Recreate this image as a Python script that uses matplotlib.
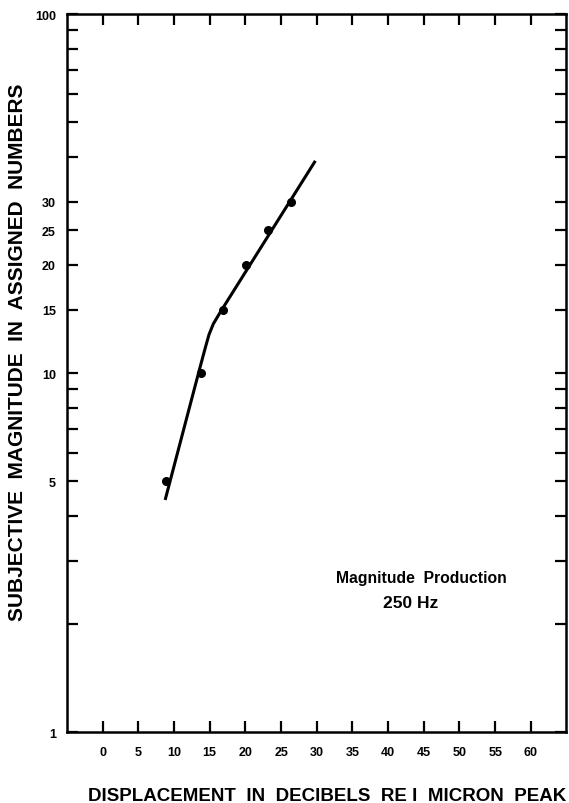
import matplotlib
matplotlib.use("Agg")
import matplotlib.pyplot as plt
import numpy as np
from matplotlib.ticker import FixedLocator, NullFormatter, NullLocator

plt.rcParams['font.family'] = ['Liberation Sans', 'DejaVu Sans']
plt.rcParams['font.weight'] = 'bold'

# data points
db_points = [8.9, 13.8, 16.8, 20.1, 23.1, 26.4]
mag_points = [5, 10, 15, 20, 25, 30]

# fitted curve (two segments with a rounded knee)
db_line = [8.75, 12.0, 13.6, 14.4, 14.9, 15.5, 16.5, 29.8]
mag_line = [4.43, 7.8, 10.3, 11.8, 12.8, 13.7, 14.8, 39.0]

xticks = [0, 5, 10, 15, 20, 25, 30, 35, 40, 45, 50, 55, 60]
xticklabels = [str(v) for v in xticks]
ymajor = [1, 5, 10, 15, 20, 25, 30, 100]
yminor = [2, 3, 4, 6, 7, 8, 9, 40, 50, 60, 70, 80, 90]

fig = plt.figure(figsize=(5.69, 8.04), dpi=100)
ax = fig.add_axes([0.1178, 0.0883, 0.8778, 0.893])

ax.plot(db_line, mag_line, color='black', lw=2.2, solid_capstyle='butt')
ax.plot(db_points, mag_points, 'o', color='black', ms=5.5)

ax.set_yscale('log')
ax.set_xlim(-5, 65)
ax.set_ylim(1, 100)

ax.xaxis.set_major_locator(FixedLocator(xticks))
ax.set_xticklabels(xticklabels)
ax.xaxis.set_minor_locator(NullLocator())
ax.yaxis.set_major_locator(FixedLocator(ymajor))
ax.set_yticklabels([str(v) for v in ymajor])
ax.yaxis.set_minor_locator(FixedLocator(yminor))
ax.yaxis.set_minor_formatter(NullFormatter())

ax.tick_params(which='both', direction='in', top=True, right=True,
               length=8, width=1.6, labelsize=9)
ax.tick_params(axis='x', pad=10)
ax.tick_params(axis='y', pad=8)
for s in ax.spines.values():
    s.set_linewidth(1.8)

ax.text(44.6, 2.70, 'Magnitude  Production', ha='center', va='center',
        fontsize=11.3, fontweight='bold')
ax.text(43.2, 2.288, '250 Hz', ha='center', va='center',
        fontsize=12.5, fontweight='bold')

fig.text(0.03, 0.562, 'SUBJECTIVE  MAGNITUDE  IN  ASSIGNED  NUMBERS',
         rotation=90, ha='center', va='center', fontsize=15, fontweight='bold')
fig.text(0.575, 0.0095, 'DISPLACEMENT  IN  DECIBELS  RE I  MICRON  PEAK',
         ha='center', va='center', fontsize=13.5, fontweight='bold')

fig.savefig('out.png', dpi=100)
